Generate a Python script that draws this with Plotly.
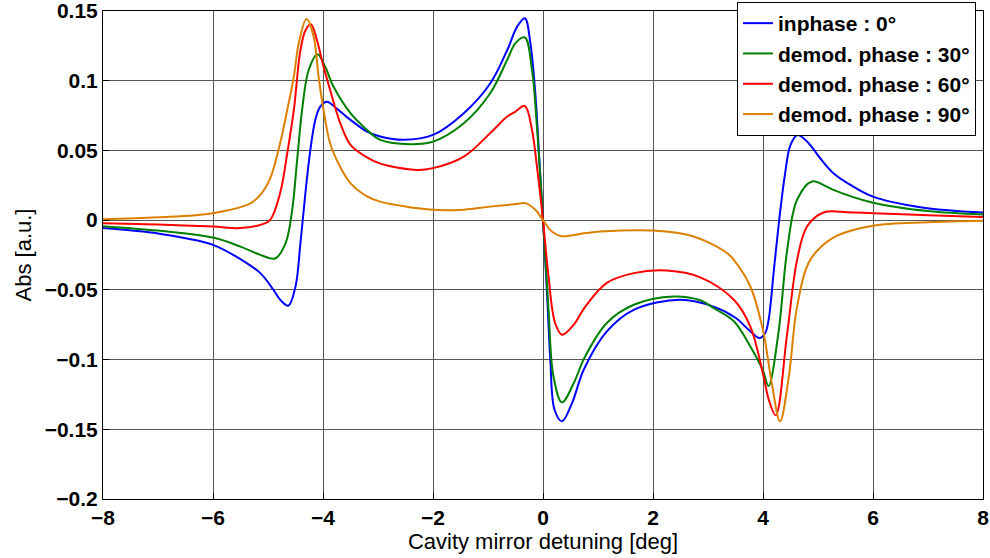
import plotly.graph_objects as go

# ---- data ----
x_inphase = [-8, -7, -6.5, -6, -5.5, -5.14, -4.9, -4.78, -4.63, -4.5, -4.41, -4.32, -4.23, -4.14, -4.05,
             -3.93, -3.75, -3.5, -3.2, -2.96, -2.53, -2.0, -1.44, -0.96, -0.65, -0.47, -0.33, -0.23,
             -0.14, -0.067, 0, 0.073, 0.133, 0.21, 0.345, 0.53, 0.74, 1.16, 1.65, 2.5, 3.1, 3.5, 3.75,
             3.94, 4.04, 4.1, 4.2, 4.3, 4.4, 4.5, 4.63, 4.83, 5.04, 5.28, 5.59, 6, 6.86, 8]
y_inphase = [-0.0057, -0.0095, -0.013, -0.0177, -0.028, -0.038, -0.050, -0.057, -0.0614, -0.0476, -0.0165,
             0.0194, 0.0504, 0.0719, 0.0814, 0.085, 0.080, 0.0719, 0.0635, 0.060, 0.0576, 0.0611, 0.0767,
             0.098, 0.122, 0.1388, 0.1448, 0.127, 0.091, 0.0432, 0, -0.0523, -0.100, -0.136, -0.1443,
             -0.131, -0.1073, -0.0798, -0.0643, -0.0571, -0.062, -0.070, -0.079, -0.0846, -0.081, -0.072,
             -0.035, 0.002, 0.033, 0.054, 0.0611, 0.0552, 0.0444, 0.0337, 0.0253, 0.0169, 0.0093, 0.0054]

x_30 = [-8, -7, -6, -5.5, -5.14, -4.87, -4.68, -4.56, -4.47, -4.38, -4.26, -4.10, -3.96, -3.81, -3.5,
        -3.2, -2.96, -2.41, -2.0, -1.44, -0.96, -0.65, -0.5, -0.33, -0.2, -0.11, 0, 0.10, 0.19, 0.345,
        0.56, 0.75, 1.16, 1.65, 2.37, 2.86, 3.1, 3.47, 3.77, 4.0, 4.10, 4.28, 4.44, 4.62, 4.89, 5.13,
        5.28, 6, 7, 8]
y_30 = [-0.0043, -0.0075, -0.0125, -0.019, -0.0249, -0.0275, -0.0165, 0.0074, 0.0432, 0.079, 0.1077,
        0.119, 0.110, 0.0958, 0.0767, 0.0647, 0.0576, 0.0545, 0.0563, 0.0695, 0.091, 0.115, 0.127, 0.131,
        0.1077, 0.067, 0, -0.064, -0.112, -0.1307, -0.1168, -0.099, -0.0738, -0.0607, -0.0548, -0.0575,
        -0.063, -0.0725, -0.0906, -0.108, -0.119, -0.081, -0.0213, 0.0146, 0.0277, 0.0246, 0.0217,
        0.0125, 0.0065, 0.004]

x_60 = [-8, -7, -6, -5.5, -5.14, -4.96, -4.78, -4.65, -4.53, -4.41, -4.32, -4.22, -4.11, -3.99, -3.87,
        -3.69, -3.5, -3.2, -2.96, -2.29, -2.0, -1.44, -0.96, -0.65, -0.5, -0.33, -0.2, -0.11, 0, 0.10,
        0.22, 0.345, 0.56, 0.76, 1.16, 1.65, 2.25, 2.86, 3.47, 3.77, 4.01, 4.10, 4.23, 4.44, 4.62, 4.80,
        5.1, 5.53, 6, 7, 8]
y_60 = [-0.0022, -0.0032, -0.0046, -0.0057, -0.0034, 0.0002, 0.0193, 0.048, 0.079, 0.122, 0.136, 0.1405,
        0.129, 0.110, 0.0934, 0.0700, 0.054, 0.045, 0.0405, 0.036, 0.0373, 0.0456, 0.0624, 0.0743, 0.0779,
        0.0819, 0.0647, 0.0384, 0, -0.0404, -0.0738, -0.0822, -0.075, -0.0625, -0.045, -0.038, -0.0361,
        -0.041, -0.0571, -0.0763, -0.112, -0.128, -0.140, -0.081, -0.0285, -0.0046, 0.0055, 0.0057,
        0.005, 0.0035, 0.0022]

x_90 = [-8, -7, -6, -5.32, -5.14, -4.96, -4.78, -4.65, -4.53, -4.44, -4.30, -4.17, -4.08, -3.99, -3.87,
        -3.69, -3.5, -3.2, -2.96, -2.0, -1.44, -0.96, -0.5, -0.32, -0.14, 0, 0.16, 0.33, 0.77, 1.04, 2.0,
        2.74, 3.35, 3.47, 3.77, 4.0, 4.16, 4.31, 4.47, 4.62, 4.86, 5.28, 6, 7, 8]
y_90 = [0.0007, 0.002, 0.005, 0.012, 0.0181, 0.030, 0.0552, 0.079, 0.103, 0.127, 0.1443, 0.1316, 0.103,
        0.079, 0.055, 0.0384, 0.0265, 0.017, 0.0133, 0.0074, 0.0075, 0.0097, 0.0115, 0.0122, 0.0074, 0,
        -0.0082, -0.0115, -0.0093, -0.0082, -0.0075, -0.0117, -0.0237, -0.0285, -0.0476, -0.079, -0.117,
        -0.1443, -0.112, -0.062, -0.0285, -0.0125, -0.0040, -0.0015, -0.0004]

series_names = ["inphase : 0°", "demod. phase : 30°", "demod. phase : 60°", "demod. phase : 90°"]
series_colors = ["#0000FF", "#008000", "#FF0000", "#DD8000"]

x_ticks = [-8, -6, -4, -2, 0, 2, 4, 6, 8]
x_tick_text = ["\u22128", "\u22126", "\u22124", "\u22122", "0", "2", "4", "6", "8"]
y_ticks = [-0.2, -0.15, -0.1, -0.05, 0, 0.05, 0.1, 0.15]
y_tick_text = ["\u22120.2", "\u22120.15", "\u22120.1", "\u22120.05", "0", "0.05", "0.1", "0.15"]

FONT = "Liberation Sans, Arial, sans-serif"

fig = go.Figure()
for xs, ys, name, col in zip([x_inphase, x_30, x_60, x_90],
                             [y_inphase, y_30, y_60, y_90],
                             series_names, series_colors):
    fig.add_trace(go.Scatter(x=xs, y=ys, mode="lines", name=name,
                             line=dict(color=col, width=2, shape="spline", smoothing=1.0)))

axis_common = dict(showline=True, linecolor="black", linewidth=1, mirror=True,
                   showgrid=True, gridcolor="#555555", gridwidth=1,
                   zeroline=False, ticks="inside", ticklen=6, tickcolor="black",
                   ticklabeloverflow="allow",
                   tickfont=dict(family=FONT, size=21, color="black", weight="bold"))

fig.update_layout(
    width=990, height=558,
    margin=dict(l=103, r=7, t=11, b=59, autoexpand=False),
    paper_bgcolor="white", plot_bgcolor="white",
    font=dict(family=FONT, color="black"),
    xaxis=dict(range=[-8, 8], tickvals=x_ticks, ticktext=x_tick_text,
               title=dict(text="Cavity mirror detuning [deg]", font=dict(family=FONT, size=22),
                          standoff=4),
               **axis_common),
    yaxis=dict(range=[-0.2, 0.15], tickvals=y_ticks, ticktext=y_tick_text,
               title=dict(text="Abs [a.u.]", font=dict(family=FONT, size=22), standoff=6),
               **axis_common),
    legend=dict(xref="container", yref="container", x=976 / 990, y=1 - 2 / 558,
                xanchor="right", yanchor="top",
                bgcolor="white", bordercolor="black", borderwidth=1,
                font=dict(family=FONT, size=21, color="black", weight="bold"),
                itemwidth=30, tracegroupgap=0),
    showlegend=True,
)

fig.write_html("out.html")
